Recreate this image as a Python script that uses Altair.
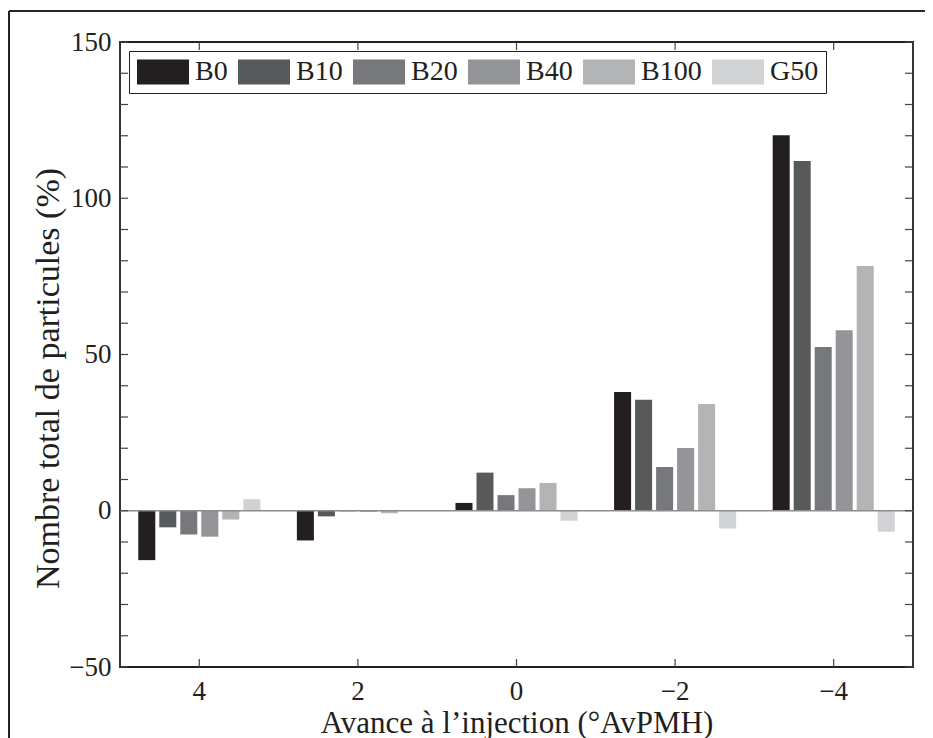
import altair as alt
import pandas as pd

advance = ["4", "2", "0", "\u22122", "\u22124"]
series = ["B0", "B10", "B20", "B40", "B100", "G50"]
colors = ["#231f20", "#58595b", "#77787b", "#939598", "#b3b4b5", "#d1d2d4"]
B0 = [-15.8, -9.5, 2.5, 38.0, 120.2]
B10 = [-5.3, -1.8, 12.2, 35.5, 111.9]
B20 = [-7.6, -0.2, 5.0, 14.0, 52.4]
B40 = [-8.3, -0.3, 7.2, 20.1, 57.8]
B100 = [-2.8, -0.8, 8.9, 34.2, 78.3]
G50 = [3.7, 0.0, -3.2, -5.7, -6.7]
y_ticks = [-50, 0, 50, 100, 150]
y_minor = list(range(-50, 151, 10))

values = {"B0": B0, "B10": B10, "B20": B20, "B40": B40, "B100": B100, "G50": G50}
rows = []
for s in series:
    for a, v in zip(advance, values[s]):
        rows.append({"adv": a, "serie": s, "val": v})
df = pd.DataFrame(rows)
minor_df = pd.DataFrame({"t": y_minor})
adv_df = pd.DataFrame({"adv": advance})

W, H = 793, 625
FONT = "'Liberation Serif', 'Times New Roman', Times, serif"
INK = "#231f20"

xscale = alt.Scale(domain=advance, paddingInner=0, paddingOuter=0)
yscale = alt.Scale(domain=[-50, 150], nice=False, zero=False)

bars = alt.Chart(df).mark_bar().encode(
    x=alt.X("adv:N", scale=xscale, sort=advance,
            axis=alt.Axis(title="Avance à l\u2019injection (°AvPMH)", labelAngle=0,
                          ticks=False, domain=False, labelPadding=11, titlePadding=4,
                          labelFontSize=27, titleFontSize=31)),
    xOffset=alt.XOffset("serie:N", sort=series,
                        scale=alt.Scale(domain=series, paddingInner=0.19, paddingOuter=0.87)),
    y=alt.Y("val:Q", scale=yscale,
            axis=alt.Axis(title="Nombre total de particules (%)", values=y_ticks,
                          ticks=False, domain=False, grid=False, labelPadding=9,
                          labelFontSize=27, titleFontSize=34,
                          titleX=-62, titleY=336, titleAlign="center",
                          titleBaseline="alphabetic")),
    color=alt.Color("serie:N", sort=series,
                    scale=alt.Scale(domain=series, range=colors),
                    legend=alt.Legend(title=None, orient="none", legendX=9, legendY=9,
                                      direction="horizontal", columns=6,
                                      symbolType="M-2,-0.96H2V0.96H-2Z", symbolSize=676,
                                      symbolOffset=13,
                                      symbolStrokeWidth=0, labelFontSize=28, labelFont=FONT,
                                      labelColor=INK, labelOffset=18, columnPadding=9,
                                      strokeColor=INK, fillColor="white", padding=7)),
)

zero = alt.Chart(pd.DataFrame({"z": [0]})).mark_rule(color="#8c8c8c", strokeWidth=1.5).encode(
    y=alt.Y("z:Q", scale=yscale), x=alt.value(0), x2=alt.value(W))

yl = alt.Chart(minor_df).mark_rule(color="#444", strokeWidth=1.2).encode(
    y=alt.Y("t:Q", scale=yscale), x=alt.value(0), x2=alt.value(8))
yr = alt.Chart(minor_df).mark_rule(color="#444", strokeWidth=1.2).encode(
    y=alt.Y("t:Q", scale=yscale), x=alt.value(W - 8), x2=alt.value(W))
xb = alt.Chart(adv_df).mark_rule(color="#444", strokeWidth=1.2).encode(
    x=alt.X("adv:N", scale=xscale, sort=advance), y=alt.value(H - 8), y2=alt.value(H))
xt = alt.Chart(adv_df).mark_rule(color="#444", strokeWidth=1.2).encode(
    x=alt.X("adv:N", scale=xscale, sort=advance), y=alt.value(0), y2=alt.value(8))

frame_top = alt.Chart(adv_df).mark_rule(color=INK, strokeWidth=1.2).encode(
    x=alt.value(-111), x2=alt.value(W + 25), y=alt.value(-31))
frame_left = alt.Chart(adv_df).mark_rule(color=INK, strokeWidth=1.2).encode(
    x=alt.value(-111), y=alt.value(-31), y2=alt.value(H + 75))

chart = alt.layer(bars, zero, yl, yr, xb, xt, frame_top, frame_left).properties(
    width=W, height=H,
    autosize=alt.AutoSizeParams(type="none"),
    padding={"left": 112, "top": 34, "right": 12, "bottom": 71},
    background="white",
).configure_view(stroke=INK, strokeWidth=1.8).configure_axis(
    labelFont=FONT, titleFont=FONT,
    labelColor=INK, titleColor=INK, titleFontWeight="normal",
).configure_legend(labelFont=FONT)

chart.save("out.html", embed_options={"renderer": "svg", "actions": False})
